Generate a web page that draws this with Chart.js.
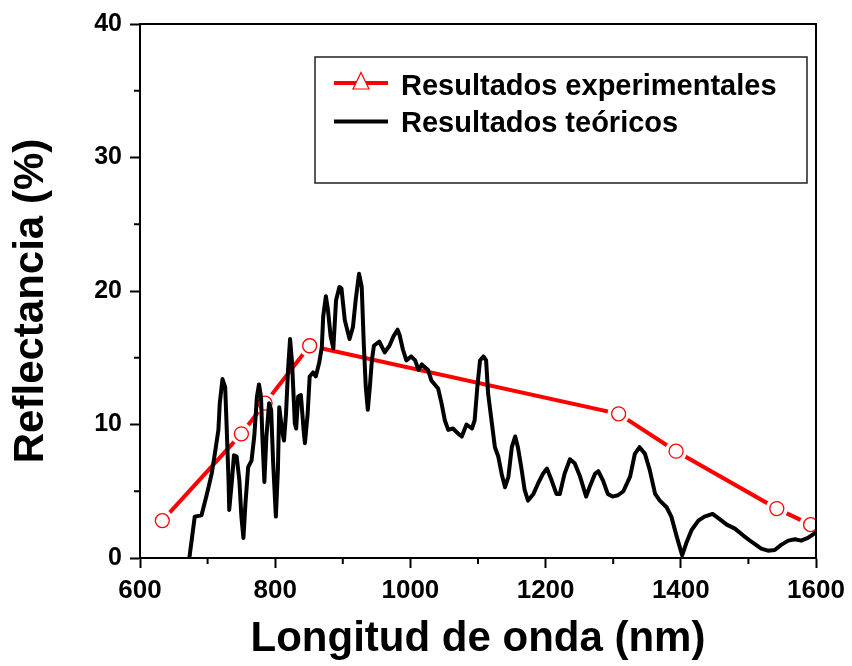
<!DOCTYPE html>
<html>
<head>
<meta charset="utf-8">
<script src="https://cdn.jsdelivr.net/npm/chart.js@4"></script>
<style>
  html, body { margin: 0; padding: 0; background: #fff; }
  #box { width: 852px; height: 666px; }
</style>
</head>
<body>
<div id="box"><canvas id="grafico"></canvas></div>
<script>
// --- datos ---
const expNm = [633, 750, 785, 851, 1308, 1393, 1542, 1592];
const expR  = [2.8, 9.3, 11.6, 15.9, 10.8, 8.0, 3.7, 2.5];

const teoNm = [673, 681, 691, 699, 706, 711, 716, 718, 722, 726, 728, 731, 732, 736, 739, 743, 747, 750, 753, 756,
  760, 765, 769, 773, 776, 779, 781, 784, 787, 791, 794, 797, 801, 804, 806, 810, 813, 816, 819, 822,
  825, 829, 831, 834, 838, 842, 844, 848, 851, 856, 860, 865, 869, 871, 875, 878, 882, 886, 890, 895,
  898, 903, 910, 915, 919, 924, 928, 931, 934, 937, 940, 943, 946, 954, 962, 969, 975, 981, 984, 989,
  994, 1001, 1007, 1012, 1017, 1021, 1026, 1031, 1036, 1041, 1046, 1051, 1056, 1063, 1071, 1076, 1083, 1091, 1095, 1099,
  1103, 1108, 1112, 1115, 1120, 1125, 1130, 1135, 1140, 1145, 1150, 1155, 1159, 1164, 1169, 1174, 1182, 1189, 1196, 1202,
  1209, 1216, 1221, 1228, 1236, 1243, 1251, 1260, 1265, 1273, 1278, 1285, 1292, 1299, 1307, 1315, 1325, 1332, 1339, 1347,
  1354, 1362, 1369, 1379, 1386, 1394, 1402, 1408, 1416, 1426, 1435, 1447, 1455, 1468, 1480, 1492, 1505, 1519, 1529, 1539,
  1549, 1559, 1569, 1578, 1588, 1598, 1600];
const teoR = [0, 3.1, 3.2, 4.8, 6.3, 7.9, 9.6, 11.6, 13.4, 12.8, 10.1, 5.8, 3.6, 5.8, 7.7, 7.6, 5.8, 3.1, 1.5, 4.1,
  6.8, 7.3, 9.1, 12.1, 13.0, 12.1, 9.1, 5.7, 9.1, 11.6, 11.1, 7.1, 3.1, 6.6, 11.3, 9.6, 8.8, 10.8, 14.1, 16.4,
  14.6, 10.1, 9.7, 12.1, 12.2, 9.6, 8.6, 10.8, 13.6, 13.9, 13.6, 14.6, 15.8, 18.1, 19.6, 18.6, 16.6, 15.7, 19.3, 20.3,
  20.2, 17.8, 16.4, 17.3, 19.3, 21.3, 20.3, 16.1, 12.8, 11.1, 12.8, 14.8, 15.9, 16.2, 15.4, 15.9, 16.6, 17.1, 16.7, 15.6,
  14.8, 15.1, 14.8, 14.1, 14.5, 14.3, 14.1, 13.3, 13.0, 12.7, 11.6, 10.3, 9.6, 9.7, 9.3, 9.1, 10.0, 9.7, 10.3, 12.8,
  14.8, 15.1, 14.8, 12.3, 10.3, 8.3, 7.6, 6.3, 5.3, 6.1, 8.3, 9.1, 8.3, 6.8, 5.1, 4.3, 4.8, 5.6, 6.3, 6.7,
  5.8, 4.8, 4.8, 6.3, 7.4, 7.1, 6.1, 4.6, 5.3, 6.3, 6.5, 5.8, 4.8, 4.6, 4.7, 5.0, 6.1, 7.8, 8.3, 7.8,
  6.6, 4.8, 4.3, 3.8, 3.1, 1.6, 0.2, 1.1, 2.1, 2.8, 3.1, 3.3, 3.0, 2.5, 2.2, 1.7, 1.2, 0.7, 0.55, 0.6,
  1.0, 1.3, 1.4, 1.3, 1.5, 1.85, 1.95];

const ticksX = [600, 800, 1000, 1200, 1400, 1600];
const ticksY = [0, 10, 20, 30, 40];
const menoresX = [700, 900, 1100, 1300, 1500];
const menoresY = [5, 15, 25, 35];

const fuente = '"Liberation Sans", Arial, sans-serif';

function puntos(xs, ys) {
  return xs.map((v, i) => ({ x: v, y: ys[i] }));
}

// marco, marcas menores, titulo Y y leyenda
const marcoPlugin = {
  id: 'marco',
  afterDraw(chart) {
    const { ctx, chartArea: a, scales: { x, y } } = chart;
    ctx.save();
    ctx.strokeStyle = '#000';
    ctx.lineWidth = 2;
    ctx.beginPath();
    menoresX.forEach(v => {
      const px = x.getPixelForValue(v);
      ctx.moveTo(px, a.bottom);
      ctx.lineTo(px, a.bottom + 6);
    });
    menoresY.forEach(v => {
      const py = y.getPixelForValue(v);
      ctx.moveTo(a.left, py);
      ctx.lineTo(a.left - 6, py);
    });
    ctx.stroke();
    ctx.strokeRect(a.left, a.top, a.right - a.left, a.bottom - a.top);

    // titulo del eje Y
    ctx.save();
    ctx.translate(31, 301);
    ctx.rotate(-Math.PI / 2);
    ctx.fillStyle = '#000';
    ctx.font = 'bold 42px ' + fuente;
    ctx.textAlign = 'center';
    ctx.textBaseline = 'middle';
    ctx.fillText('Reflectancia (%)', 0, 0);
    ctx.restore();

    // leyenda
    const ds = chart.data.datasets;
    ctx.lineWidth = 1.5;
    ctx.strokeStyle = '#222';
    ctx.strokeRect(315, 57, 492, 126);

    ctx.lineWidth = 4;
    ctx.strokeStyle = '#ff0000';
    ctx.beginPath();
    ctx.moveTo(334, 83); ctx.lineTo(388, 83);
    ctx.stroke();
    ctx.fillStyle = '#fff';
    ctx.lineWidth = 1.2;
    ctx.beginPath();
    ctx.moveTo(361, 72.5); ctx.lineTo(369, 89); ctx.lineTo(353, 89); ctx.closePath();
    ctx.fill(); ctx.stroke();

    ctx.lineWidth = 4;
    ctx.strokeStyle = '#000';
    ctx.beginPath();
    ctx.moveTo(334, 121.5); ctx.lineTo(388, 121.5);
    ctx.stroke();

    ctx.fillStyle = '#000';
    ctx.font = 'bold 29px ' + fuente;
    ctx.textAlign = 'left';
    ctx.textBaseline = 'alphabetic';
    ctx.fillText(ds[0].label, 401, 95);
    ctx.fillText(ds[3].label, 401, 131.5);
    ctx.restore();
  }
};

const ctx = document.getElementById('grafico').getContext('2d');
new Chart(ctx, {
  type: 'line',
  data: {
    datasets: [
      {
        label: 'Resultados experimentales',
        data: puntos(expNm, expR),
        borderColor: '#ff0000',
        borderWidth: 4,
        pointRadius: 0,
        order: 4
      },
      {
        label: 'halo',
        data: puntos(expNm, expR),
        showLine: false,
        pointRadius: 11,
        pointBorderWidth: 0,
        pointBackgroundColor: '#fff',
        pointBorderColor: '#fff',
        order: 3
      },
      {
        label: 'circulos',
        data: puntos(expNm, expR),
        showLine: false,
        pointRadius: 7,
        pointBorderWidth: 1.3,
        pointBorderColor: '#ff0000',
        pointBackgroundColor: '#fff',
        order: 2
      },
      {
        label: 'Resultados teóricos',
        data: puntos(teoNm, teoR),
        borderColor: '#000',
        borderWidth: 4,
        borderJoinStyle: 'round',
        pointRadius: 0,
        tension: 0,
        order: 1
      }
    ]
  },
  options: {
    responsive: true,
    maintainAspectRatio: false,
    animation: false,
    layout: { padding: { left: 0, right: 36, top: 24, bottom: 0 } },
    plugins: {
      legend: { display: false },
      tooltip: { enabled: false }
    },
    scales: {
      x: {
        type: 'linear',
        min: 600,
        max: 1600,
        afterFit: s => { s.height = 108; },
        afterBuildTicks: s => { s.ticks = ticksX.map(v => ({ value: v })); },
        ticks: {
          color: '#000',
          font: { family: fuente, size: 26, weight: 'bold' },
          padding: 7,
          maxRotation: 0,
          autoSkip: false,
          callback: v => String(v)
        },
        grid: { drawOnChartArea: false, tickLength: 10, tickWidth: 2, tickColor: '#000' },
        border: { display: true, color: '#000', width: 2 },
        title: {
          display: true,
          text: 'Longitud de onda (nm)',
          color: '#000',
          font: { family: fuente, size: 42, weight: 'bold' },
          padding: { top: 0, bottom: 1 }
        }
      },
      y: {
        min: 0,
        max: 40,
        afterFit: s => { s.width = 140; },
        afterBuildTicks: s => { s.ticks = ticksY.map(v => ({ value: v })); },
        ticks: {
          color: '#000',
          font: { family: fuente, size: 25, weight: 'bold' },
          padding: 8,
          callback: v => String(v)
        },
        grid: { drawOnChartArea: false, tickLength: 10, tickWidth: 2, tickColor: '#000' },
        border: { display: true, color: '#000', width: 2 }
      }
    }
  },
  plugins: [marcoPlugin]
});
</script>
</body>
</html>
